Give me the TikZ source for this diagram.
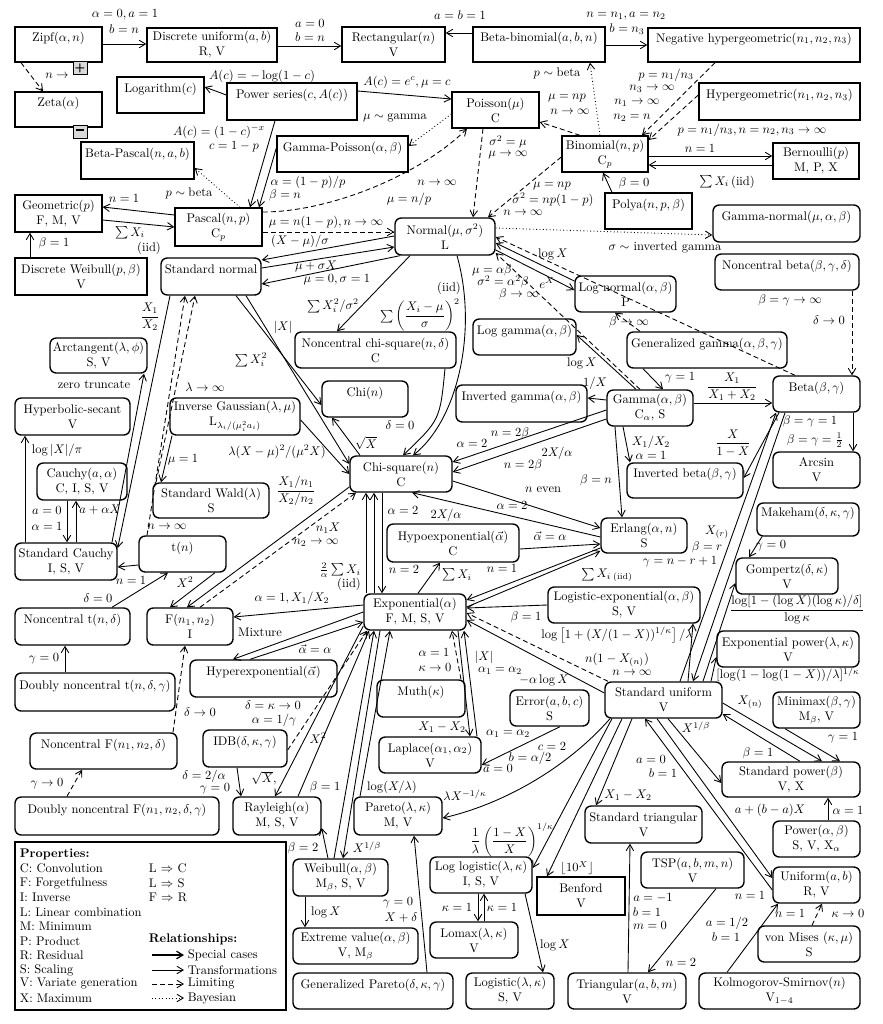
\documentclass[tikz,border=0pt]{standalone}
\usepackage{amsmath,amssymb}
\usetikzlibrary{arrows.meta}
\newcounter{lbc}
\newcommand\lbl[3]{\stepcounter{lbc}\node[lab] (lb\arabic{lbc}) at (#1,#2) {#3};}
\newcommand\lbw[3]{\stepcounter{lbc}\node[lab,anchor=west] (lb\arabic{lbc}) at (#1,#2) {#3};}
\newcommand\mkbox[7]{%
  \pgfmathsetmacro\bxcx{(#2+#4)/2}\pgfmathsetmacro\bxcy{(#3+#5)/2}%
  \pgfmathsetmacro\bxww{(#4-#2)*0.8}\pgfmathsetmacro\bxhh{(#5-#3)*0.8}%
  \node[#6,minimum width=\bxww pt,minimum height=\bxhh pt] (#1) at (\bxcx,\bxcy) {#7};}
\newcommand\dnode[6]{\mkbox{#1}{#2}{#3}{#4}{#5}{dbox}{#6}}
\newcommand\cnode[6]{\mkbox{#1}{#2}{#3}{#4}{#5}{cbox}{#6}}
\newcommand\nil{\phantom{V}}
\begin{document}
\begin{tikzpicture}[x=0.8pt,y=-0.8pt,
  dbox/.style={draw,line width=1.1pt,inner sep=0pt,align=center},
  cbox/.style={dbox,rounded corners=5pt},
  conn/.style={line width=0.7pt,-{Straight Barb[length=5pt,width=6pt]}},
  lim/.style={conn,dash pattern=on 4pt off 2.5pt},
  bay/.style={conn,dotted},
  lab/.style={inner sep=0.5pt},
  pmbox/.style={draw,line width=0.6pt,fill=gray!30,minimum size=11pt,inner sep=0pt,font=\sffamily\bfseries}]
\useasboundingbox (0,0) rectangle (883,1024);
% ---------- nodes ----------
\dnode{zipf}{15}{27}{102}{62}{Zipf$(\alpha,n)$\\\nil}
\dnode{zeta}{15}{92}{102}{127}{Zeta$(\alpha)$\\\nil}
\dnode{du}{147}{28}{277}{62}{Discrete uniform$(a,b)$\\R, V}
\dnode{rect}{342}{27}{445}{62}{Rectangular$(n)$\\V}
\dnode{bb}{473}{27}{605}{62}{Beta-binomial$(a,b,n)$\\\nil}
\dnode{nh}{648}{28}{860}{62}{Negative hypergeometric$(n_1,n_2,n_3)$\\\nil}
\dnode{log}{117}{77}{204}{113}{Logarithm$(c)$\\\nil}
\dnode{ps}{227}{83}{357}{120}{Power series$(c,A(c))$\\\nil}
\dnode{poisson}{452}{92}{539}{128}{Poisson$(\mu)$\\C}
\dnode{hg}{699}{83}{860}{120}{Hypergeometric$(n_1,n_2,n_3)$\\\nil}
\dnode{bp}{81}{142}{194}{179}{Beta-Pascal$(n,a,b)$\\\nil}
\dnode{gp}{277}{136}{408}{172}{Gamma-Poisson$(\alpha,\beta)$\\\nil}
\dnode{binom}{562}{136}{648}{172}{Binomial$(n,p)$\\C$_p$}
\dnode{bern}{773}{143}{859}{179}{Bernoulli$(p)$\\M, P, X}
\dnode{polya}{605}{193}{692}{229}{Polya$(n,p,\beta)$\\\nil}
\cnode{gn}{713}{205}{860}{242}{Gamma-normal$(\mu,\alpha,\beta)$\\\nil}
\dnode{geom}{15}{195}{102}{232}{Geometric$(p)$\\F, M, V}
\dnode{pascal}{175}{208}{262}{246}{Pascal$(n,p)$\\C$_p$}
\cnode{normal}{395}{218}{495}{255}{Normal$(\mu,\sigma^2)$\\L}
\dnode{dw}{15}{258}{147}{295}{Discrete Weibull$(p,\beta)$\\V}
\cnode{sn}{161}{258}{261}{295}{Standard normal\\\nil}
\cnode{nb}{715}{254}{859}{290}{Noncentral beta$(\beta,\gamma,\delta)$\\\nil}
\cnode{ln}{575}{276}{676}{312}{Log normal$(\alpha,\beta)$\\P}
\cnode{ncs}{295}{332}{456}{368}{Noncentral chi-square$(n,\delta)$\\C}
\cnode{lg}{473}{319}{576}{355}{Log gamma$(\alpha,\beta)$\\\nil}
\cnode{gg}{627}{332}{787}{368}{Generalized gamma$(\alpha,\beta,\gamma)$\\\nil}
\cnode{arct}{50}{338}{147}{373}{Arctangent$(\lambda,\phi)$\\S, V}
\cnode{chi}{322}{381}{408}{417}{Chi$(n)$\\\nil}
\cnode{invg}{456}{385}{587}{422}{Inverted gamma$(\alpha,\beta)$\\\nil}
\cnode{gamma}{607}{390}{693}{426}{Gamma$(\alpha,\beta)$\\C$_\alpha$, S}
\cnode{beta}{773}{376}{860}{412}{Beta$(\beta,\gamma)$\\\nil}
\cnode{hs}{15}{398}{130}{435}{Hyperbolic-secant\\V}
\cnode{ig}{170}{398}{300}{435}{Inverse Gaussian$(\lambda,\mu)$\\L$_{\lambda_i/(\mu_i^2a_i)}$}
\cnode{arcsin}{773}{452}{860}{488}{Arcsin\\V}
\cnode{cauchy}{37}{463}{127}{500}{Cauchy$(a,\alpha)$\\C, I, S, V}
\cnode{chisq}{350}{456}{452}{492}{Chi-square$(n)$\\C}
\cnode{sw}{153}{483}{269}{518}{Standard Wald$(\lambda)$\\S}
\cnode{ib}{627}{463}{743}{498}{Inverted beta$(\beta,\gamma)$\\\nil}
\cnode{makeham}{757}{503}{859}{536}{Makeham$(\delta,\kappa,\gamma)$\\\nil}
\cnode{erlang}{601}{518}{687}{553}{Erlang$(\alpha,n)$\\S}
\cnode{hypo}{387}{524}{519}{562}{Hypoexponential$(\vec\alpha)$\\C}
\cnode{t}{139}{536}{226}{572}{t$(n)$\\\nil}
\cnode{sc}{15}{543}{117}{580}{Standard Cauchy\\I, S, V}
\cnode{gomp}{736}{558}{838}{594}{Gompertz$(\delta,\kappa)$\\V}
\cnode{le}{548}{587}{700}{623}{Logistic-exponential$(\alpha,\beta)$\\S, V}
\cnode{expo}{364}{594}{466}{630}{Exponential$(\alpha)$\\F, M, S, V}
\cnode{nt}{15}{608}{130}{645}{Noncentral t$(n,\delta)$\\\nil}
\cnode{f}{147}{608}{233}{645}{F$(n_1,n_2)$\\I}
\cnode{ep}{717}{631}{859}{667}{Exponential power$(\lambda,\kappa)$\\V}
\cnode{hyper}{190}{660}{337}{697}{Hyperexponential$(\vec\alpha)$\\\nil}
\cnode{dnt}{15}{673}{175}{711}{Doubly noncentral t$(n,\delta,\gamma)$\\\nil}
\cnode{muth}{377}{680}{465}{717}{Muth$(\kappa)$\\\nil}
\cnode{su}{605}{682}{722}{718}{Standard uniform\\V}
\cnode{minimax}{773}{692}{860}{728}{Minimax$(\beta,\gamma)$\\M$_\beta$, V}
\cnode{error}{510}{690}{589}{726}{Error$(a,b,c)$\\S}
\cnode{nf}{30}{733}{177}{769}{Noncentral F$(n_1,n_2,\delta)$\\\nil}
\cnode{idb}{203}{730}{287}{767}{IDB$(\delta,\kappa,\gamma)$\\\nil}
\cnode{laplace}{379}{737}{481}{773}{Laplace$(\alpha_1,\alpha_2)$\\V}
\cnode{sp}{722}{762}{860}{797}{Standard power$(\beta)$\\V, X}
\cnode{dnf}{15}{797}{219}{835}{Doubly noncentral F$(n_1,n_2,\delta,\gamma)$\\\nil}
\cnode{ray}{233}{797}{321}{835}{Rayleigh$(\alpha)$\\M, S, V}
\cnode{pareto}{354}{797}{442}{835}{Pareto$(\lambda,\kappa)$\\M, V}
\cnode{st}{585}{806}{702}{843}{Standard triangular\\V}
\cnode{power}{773}{821}{860}{857}{Power$(\alpha,\beta)$\\S, V, X$_\alpha$}
\cnode{weib}{293}{859}{388}{896}{Weibull$(\alpha,\beta)$\\M$_\beta$, S, V}
\cnode{ll}{430}{857}{532}{893}{Log logistic$(\lambda,\kappa)$\\I, S, V}
\dnode{benford}{537}{877}{625}{915}{Benford\\V}
\cnode{tsp}{641}{852}{744}{888}{TSP$(a,b,m,n)$\\V}
\cnode{unif}{773}{867}{860}{903}{Uniform$(a,b)$\\R, V}
\cnode{ev}{293}{928}{418}{964}{Extreme value$(\alpha,\beta)$\\V, M$_\beta$}
\cnode{lomax}{430}{922}{518}{958}{Lomax$(\lambda,\kappa)$\\V}
\cnode{vm}{758}{926}{860}{962}{von Mises $(\kappa,\mu)$\\S}
\cnode{gpareto}{293}{973}{453}{1009}{Generalized Pareto$(\delta,\kappa,\gamma)$\\\nil}
\cnode{logistic}{466}{973}{554}{1009}{Logistic$(\lambda,\kappa)$\\S, V}
\cnode{tri}{568}{973}{686}{1009}{Triangular$(a,b,m)$\\V}
\cnode{ks}{699}{973}{860}{1009}{Kolmogorov-Smirnov$(n)$\\V$_{1-4}$}
% ---------- top ----------
\draw[conn] (zipf.east |- 0,44) -- (du.west |- 0,44);
\lbl{125}{15}{$\alpha=0, a=1$}
\lbl{124}{29}{$b=n$}
\draw[lim] (zipf.south -| 21,0) -- (zeta.north -| 43,0);
\lbl{57}{76}{$n\rightarrow$}
\node[pmbox] (plus) at (80,68) {+};
\node[pmbox] (minus) at (80,132) {\rule[2.5pt]{6pt}{1.6pt}};
\draw[conn] (du.east |- 0,46) -- (rect.west |- 0,46);
\lbl{310}{23}{$a=0$}
\lbl{310}{37}{$b=n$}
\draw[conn] (bb.west |- 0,33) -- (rect.east |- 0,33);
\lbl{460}{15}{$a=b=1$}
\draw[conn] (bb.east |- 0,45) -- (nh.west |- 0,45);
\lbl{626}{16}{$n=n_1, a=n_2$}
\lbl{627}{29}{$b=n_3$}
\draw[lim] (nh.south -| 715,0) -- (binom.north -| 642,0);
\lbl{666}{75}{$p=n_1/n_3$}
\lbl{652}{89}{$n_3\rightarrow\infty$}
\lbl{637}{103}{$n_1\rightarrow\infty$}
\lbl{632}{118}{$n_2=n$}
\draw[lim] (hg.west |- 0,95) -- (binom.east |- 0,140);
\lbl{752}{130}{$p=n_1/n_3, n=n_2, n_3\rightarrow\infty$}
\draw[bay] (binom.north -| 600,0) -- (bb.south -| 590,0);
\lbl{557}{73}{$p\sim\text{beta}$}
\draw[lim] (binom.north -| 580,0) -- (poisson.east |- 0,122);
\lbl{567}{98}{$\mu=np$}
\lbl{570}{112}{$n\rightarrow\infty$}
\draw[conn] (binom.east |- 0,156) -- (bern.west |- 0,156);
\lbl{700}{148}{$n=1$}
\draw[conn] (bern.west |- 0,165) -- (binom.east |- 0,165);
\lbl{727}{182}{$\sum X_i\,$(iid)}
\draw[conn] (polya.north -| 612,0) -- (binom.south -| 603,0);
\lbl{634}{183}{$\beta=0$}
\draw[conn] (ps.west |- 0,95) -- (log.east |- 0,87);
\lbl{262}{76}{$A(c)=-\log(1-c)$}
\draw[conn] (ps.east |- 0,91) -- (poisson.west |- 0,99);
\lbl{407}{82}{$A(c)=e^c, \mu=c$}
\draw[conn] (ps.south -| 275,0) -- (pascal.north -| 250,0);
\lbl{219}{132}{$A(c)=(1-c)^{-x}$}
\lbl{234}{147}{$c=1-p$}
\draw[conn] (gp.west |- 0,148) -- (pascal.north -| 259,0);
\lbl{308}{182}{$\alpha=(1-p)/p$}
\lbl{285}{195}{$\beta=n$}
\draw[bay] (poisson.west |- 0,114) -- (gp.east |- 0,146);
\lbl{395}{118}{$\mu\sim\text{gamma}$}
\draw[bay] (pascal.north -| 240,0) -- (bp.east |- 0,168);
\lbl{189}{193}{$p\sim\text{beta}$}
\draw[lim] (pascal.east |- 0,212) .. controls (330,212) and (420,175) .. (poisson.south -| 467,0);
\lbl{437}{183}{$n\rightarrow\infty$}
\lbl{409}{199}{$\mu=n/p$}
\draw[lim] (pascal.east |- 0,232) -- (normal.west |- 0,232);
\lbl{326}{222}{$\mu=n(1-p), n\rightarrow\infty$}
\draw[conn] (pascal.west |- 0,215) -- (geom.east |- 0,207);
\lbl{124}{198}{$n=1$}
\draw[conn] (geom.east |- 0,220) -- (pascal.west |- 0,227);
\lbl{130}{233}{$\sum X_i$}
\lbl{149}{248}{(iid)}
\draw[conn] (dw.north -| 30,0) -- (geom.south -| 30,0);
\lbl{54}{243}{$\beta=1$}
\draw[lim] (poisson.south -| 483,0) -- (normal.north -| 473,0);
\lbl{508}{142}{$\sigma^2=\mu$}
\lbl{508}{155}{$\mu\rightarrow\infty$}
\draw[lim] (binom.west |- 0,157) -- (normal.north -| 488,0);
\lbl{552}{186}{$\mu=np$}
\lbl{553}{200}{$\sigma^2=np(1-p)$}
\lbl{523}{213}{$n\rightarrow\infty$}
\draw[bay] (normal.east |- 0,228) -- (gn.west |- 0,235);
\lbl{665}{247}{$\sigma\sim$ inverted gamma}
\draw[lim] (beta.north -| 795,0) -- (normal.east |- 0,237);
\lbl{790}{300}{$\beta=\gamma\rightarrow\infty$}
\draw[lim] (nb.south -| 852,0) -- (beta.north -| 852,0);
\lbl{829}{320}{$\delta\rightarrow0$}
% ---------- normal area ----------
\draw[conn] (normal.west |- 0,236) -- (sn.east |- 0,260);
\draw[conn] (sn.east |- 0,268) -- (normal.west |- 0,247);
\draw[conn] (normal.south -| 400,0) -- (sn.east |- 0,284);
\lbl{300}{241}{$(X-\mu)/\sigma$}
\lbl{316}{266}{$\mu+\sigma X$}
\lbl{337}{280}{$\mu=0,\sigma=1$}
\draw[conn] (ln.west |- 0,281) -- (normal.east |- 0,243);
\lbl{553}{254}{$\log X$}
\draw[conn] (normal.east |- 0,250) -- (ln.west |- 0,290);
\lbl{547}{283}{$e^X$}
\draw[lim] (gamma.north -| 640,0) -- (normal.east |- 0,253);
\lbl{492}{270}{$\mu=\alpha\beta$}
\lbl{503}{282}{$\sigma^2=\alpha^2\beta$}
\lbl{519}{294}{$\beta\rightarrow\infty$}
\draw[lim] (gg.north -| 640,0) -- (ln.south -| 615,0);
\lbl{629}{322}{$\beta\rightarrow\infty$}
\draw[conn] (normal.south -| 410,0) -- (ncs.north -| 337,0);
\lbl{333}{306}{$\sum X_i^2/\sigma^2$}
\draw[conn] (normal.south -| 457,0) .. controls (478,330) and (458,420) .. (chisq.north -| 413,0);
\lbl{449}{288}{(iid)}
\lbl{420}{315}{$\sum\left(\dfrac{X_i-\mu}{\sigma}\right)^{2}$}
\draw[conn] (ncs.south -| 445,0) .. controls (440,420) .. (chisq.north -| 403,0);
\lbl{400}{425}{$\delta=0$}
\draw[conn] (chisq.north -| 360,0) -- (chi.south -| 332,0);
\lbl{366}{443}{$\sqrt{X}$}
\draw[conn] (sn.south -| 236,0) -- (chi.west |- 0,405);
\lbl{283}{327}{$|X|$}
\draw[conn] (sn.south -| 246,0) -- (chisq.west |- 0,464);
\lbl{251}{360}{$\sum X_i^2$}
\draw[conn] (ig.east |- 0,420) -- (chisq.west |- 0,474);
\lbl{277}{452}{$\lambda(X-\mu)^2/(\mu^2X)$}
\draw[conn] (ig.south -| 172,0) -- (sw.north -| 161,0);
\lbl{183}{460}{$\mu=1$}
\draw[lim] (sw.north -| 156,0) -- (sn.south -| 195,0);
\lbl{205}{387}{$\lambda\rightarrow\infty$}
\draw[lim] (t.north -| 147,0) -- (sn.south -| 185,0);
\lbl{167}{527}{$n\rightarrow\infty$}
\draw[conn] (sn.south -| 170,0) -- (sc.east |- 0,548);
\lbl{150}{317}{$\dfrac{X_1}{X_2}$}
\draw[conn] (sc.north -| 112,0) -- (arct.south -| 144,0);
\lbl{94}{385}{zero truncate}
\draw[conn] (sc.north -| 25,0) -- (hs.south -| 25,0);
\lbl{57}{450}{$\log|X|/\pi$}
\draw[conn] (cauchy.south -| 67,0) -- (sc.north -| 67,0);
\lbl{47}{510}{$a=0$}
\lbl{47}{526}{$\alpha=1$}
\draw[conn] (sc.north -| 76,0) -- (cauchy.south -| 76,0);
\lbl{100}{510}{$a+\alpha X$}
\draw[conn] (t.west |- 0,565) -- (sc.east |- 0,567);
\lbl{131}{580}{$n=1$}
\draw[conn] (nt.north -| 112,0) -- (t.south -| 168,0);
\lbl{98}{598}{$\delta=0$}
\draw[conn] (dnt.north -| 65,0) -- (nt.south -| 65,0);
\lbl{44}{659}{$\gamma=0$}
\draw[conn] (t.south -| 215,0) -- (f.north -| 170,0);
\lbl{185}{582}{$X^2$}
\draw[conn] (chisq.west |- 0,487) -- (f.north -| 187,0);
\lbl{296}{491}{$\dfrac{X_1/n_1}{X_2/n_2}$}
\draw[lim] (f.north -| 200,0) -- (chisq.south -| 356,0);
\lbl{328}{528}{$n_1X$}
\lbl{316}{543}{$n_2\rightarrow\infty$}
\draw[conn] (expo.west |- 0,605) -- (f.east |- 0,617);
\lbl{292}{598}{$\alpha=1, X_1/X_2$}
\draw[conn] (expo.west |- 0,612) -- (hyper.north -| 233,0);
\lbl{260}{632}{Mixture}
\draw[conn] (hyper.north -| 250,0) -- (expo.west |- 0,622);
\lbl{315}{649}{$\vec\alpha=\alpha$}
\draw[lim] (idb.east |- 0,750) -- (expo.south -| 367,0);
\lbl{273}{705}{$\delta=\kappa\rightarrow0$}
\lbl{274}{720}{$\alpha=1/\gamma$}
\draw[conn] (idb.south -| 237,0) -- (ray.north -| 241,0);
\lbl{204}{776}{$\delta=2/\alpha$}
\lbl{215}{789}{$\gamma=0$}
\draw[conn] (expo.west |- 0,626) -- (ray.north -| 275,0);
\lbl{264}{778}{$\sqrt{X}$,}
\draw[conn] (ray.north -| 298,0) -- (expo.south -| 369,0);
\lbl{318}{738}{$X^2$}
\draw[conn] (expo.south -| 380,0) -- (weib.north -| 343,0);
\lbl{367}{847}{$X^{1/\beta}$}
\draw[conn] (weib.north -| 334,0) -- (expo.south -| 374,0);
\lbl{325}{787}{$\beta=1$}
\draw[conn] (pareto.north -| 360,0) -- (expo.south -| 390,0);
\lbl{392}{787}{$\log(X/\lambda)$}
\draw[conn] (weib.north -| 328,0) -- (ray.east |- 0,828);
\lbl{303}{848}{$\beta=2$}
\draw[conn] (weib.south -| 305,0) -- (ev.north -| 305,0);
\lbl{326}{912}{$\log X$}
\draw[conn] (gpareto.north -| 427,0) -- (pareto.south -| 414,0);
\lbl{398}{903}{$\gamma=0$}
\lbl{401}{918}{$X+\delta$}
\draw[conn] (ll.south -| 478,0) -- (lomax.north -| 478,0);
\draw[conn] (lomax.north -| 484,0) -- (ll.south -| 484,0);
\lbl{457}{907}{$\kappa=1$}
\lbl{502}{907}{$\kappa=1$}
\draw[conn] (ll.south -| 525,0) -- (logistic.north -| 543,0);
\lbl{555}{945}{$\log X$}
\draw[lim] (nf.north -| 173,0) -- (f.south -| 185,0);
\lbl{200}{712}{$\delta\rightarrow0$}
\draw[lim] (dnf.north -| 67,0) -- (nf.south -| 82,0);
\lbl{47}{784}{$\gamma\rightarrow0$}
% ---------- standard uniform area ----------
\draw[conn] (su.south -| 612,0) -- (ll.east |- 0,868);
\lbl{512}{840}{$\dfrac{1}{\lambda}\left(\dfrac{1-X}{X}\right)^{1/\kappa}$}
\draw[conn] (su.south -| 622,0) -- (benford.north -| 547,0);
\lbl{577}{868}{$\lfloor 10^X\rfloor$}
\draw[conn] (su.south -| 632,0) -- (st.north -| 596,0);
\lbl{628}{795}{$X_1-X_2$}
\draw[conn] (tri.north -| 628,0) -- (st.south -| 630,0);
\lbl{653}{898}{$a=-1$}
\lbl{647}{912}{$b=1$}
\lbl{650}{925}{$m=0$}
\draw[conn] (tsp.south -| 716,0) -- (tri.north -| 648,0);
\lbl{681}{962}{$n=2$}
\draw[conn] (unif.west |- 0,890) -- (su.south -| 645,0);
\lbl{651}{759}{$a=0$}
\lbl{663}{773}{$b=1$}
\draw[conn] (su.south -| 657,0) -- (unif.west |- 0,878);
\lbl{770}{810}{$a+(b-a)X$}
\draw[conn] (su.south -| 668,0) -- (sp.west |- 0,783);
\lbl{696}{727}{$X^{1/\beta}$}
\draw[conn] (su.east |- 0,703) -- (sp.north -| 822,0);
\lbl{750}{702}{$X_{(n)}$}
\draw[conn] (sp.north -| 800,0) -- (su.east |- 0,714);
\lbl{758}{753}{$\beta=1$}
\draw[conn] (minimax.south -| 785,0) -- (sp.north -| 840,0);
\lbl{843}{738}{$\gamma=1$}
\draw[conn] (power.north -| 828,0) -- (sp.south -| 828,0);
\lbl{848}{810}{$\alpha=1$}
\draw[conn] (ks.north -| 727,0) -- (unif.south -| 778,0);
\lbl{727}{923}{$a=1/2$}
\lbl{726}{937}{$b=1$}
\lbl{750}{895}{$n=1$}
\lbl{790}{913}{$n=1$}
\draw[lim] (vm.north -| 812,0) -- (unif.south -| 822,0);
\lbl{848}{913}{$\kappa\rightarrow0$}
\draw[conn] (beta.south -| 785,0) -- (su.north -| 693,0);
\lbl{810}{421}{$\beta=\gamma=1$}
\draw[conn] (su.north -| 680,0) -- (beta.south -| 776,0);
\lbl{717}{532}{$X_{(r)}$}
\lbl{707}{547}{$\beta=r$}
\lbl{680}{562}{$\gamma=n-r+1$}
\draw[conn] (su.north -| 703,0) -- (gomp.west |- 0,583);
\lbl{797}{610}{$\dfrac{\log[1-(\log X)(\log\kappa)/\delta]}{\log\kappa}$}
\draw[conn] (su.north -| 688,0) -- (le.south -| 693,0);
\lbl{617}{635}{$\log\left[1+(X/(1-X))^{1/\kappa}\right]/\lambda$}
\draw[conn] (su.north -| 711,0) -- (ep.west |- 0,657);
\lbl{788}{675}{$[\log(1-\log(1-X))/\lambda]^{1/\kappa}$}
\draw[conn] (makeham.south -| 762,0) -- (gomp.north -| 749,0);
\lbl{771}{546}{$\gamma=0$}
% ---------- gamma area ----------
\draw[conn] (gamma.east |- 0,403) -- (beta.west |- 0,403);
\lbl{732}{387}{$\dfrac{X_1}{X_1+X_2}$}
\draw[conn] (beta.south -| 779,0) -- (ib.east |- 0,478);
\lbl{733}{443}{$\dfrac{X}{1-X}$}
\draw[conn] (beta.south -| 853,0) -- (arcsin.north -| 853,0);
\lbl{815}{440}{$\beta=\gamma=\frac12$}
\draw[conn] (gg.south -| 643,0) -- (gamma.north -| 663,0);
\lbl{680}{378}{$\gamma=1$}
\draw[conn] (gamma.north -| 636,0) -- (lg.east |- 0,335);
\lbl{582}{363}{$\log X$}
\draw[conn] (gamma.west |- 0,400) -- (invg.east |- 0,398);
\lbl{595}{383}{$1/X$}
\draw[conn] (gamma.west |- 0,410) -- (chisq.east |- 0,462);
\draw[conn] (gamma.west |- 0,419) -- (chisq.east |- 0,472);
\lbl{472}{443}{$\alpha=2$}
\lbl{510}{433}{$n=2\beta$}
\lbl{557}{453}{$2X/\alpha$}
\lbl{523}{465}{$n=2\beta$}
\draw[conn] (gamma.south -| 615,0) -- (erlang.north -| 622,0);
\lbl{596}{480}{$\beta=n$}
\draw[conn] (gamma.south -| 623,0) -- (ib.north -| 630,0);
\lbl{651}{442}{$X_1/X_2$}
\lbl{651}{455}{$\alpha=1$}
% ---------- erlang / exponential ----------
\draw[conn] (chisq.east |- 0,481) -- (erlang.west |- 0,528);
\lbl{543}{490}{$n$ even}
\draw[conn] (erlang.west |- 0,537) -- (chisq.south -| 412,0);
\lbl{512}{505}{$\alpha=2$}
\draw[conn] (hypo.east |- 0,549) -- (erlang.west |- 0,544);
\lbl{550}{536}{$\vec\alpha=\alpha$}
\draw[conn] (erlang.west |- 0,548) -- (expo.east |- 0,600);
\lbl{502}{568}{$n=1$}
\draw[conn] (expo.east |- 0,607) -- (erlang.west |- 0,551);
\lbl{607}{575}{$\sum X_i\,{}_{\text{(iid)}}$}
\draw[conn] (expo.north -| 366,0) -- (chisq.south -| 366,0);
\draw[conn] (expo.north -| 374,0) -- (chisq.south -| 374,0);
\draw[conn] (chisq.south -| 382,0) -- (expo.north -| 382,0);
\lbl{403}{510}{$\alpha=2$}
\lbl{446}{515}{$2X/\alpha$}
\lbl{404}{569}{$n=2$}
\lbl{340}{570}{$\frac{2}{\alpha}\sum X_i$}
\lbl{349}{584}{(iid)}
\draw[conn] (expo.north -| 418,0) -- (hypo.south -| 440,0);
\lbl{457}{575}{$\sum X_i$}
\draw[conn] (le.west |- 0,605) -- (expo.east |- 0,608);
\lbl{526}{617}{$\beta=1$}
\draw[conn] (su.west |- 0,693) -- (expo.east |- 0,620);
\lbl{544}{680}{$-\alpha\log X$}
\draw[lim] (su.north -| 608,0) -- (expo.east |- 0,613);
\lbl{617}{660}{$n(1-X_{(n)})$}
\lbl{632}{673}{$n\rightarrow\infty$}
\draw[lim] (muth.north -| 461,0) -- (expo.south -| 452,0);
\lbl{434}{652}{$\alpha=1$}
\lbl{435}{667}{$\kappa\rightarrow0$}
\draw[conn] (expo.south -| 458,0) -- (laplace.north -| 470,0);
\lbl{442}{727}{$X_1-X_2$}
\draw[conn] (laplace.north -| 477,0) -- (expo.south -| 464,0);
\lbl{484}{657}{$|X|$}
\lbl{500}{671}{$\alpha_1=\alpha_2$}
\draw[conn] (error.south -| 560,0) -- (laplace.east |- 0,765);
\lbl{508}{734}{$\alpha_1=\alpha_2$}
\lbl{552}{746}{$c=2$}
\lbl{530}{758}{$b=\alpha/2$}
\lbl{498}{768}{$a=0$}
\draw[conn] (su.south -| 610,0) .. controls (565,770) and (500,805) .. (pareto.east |- 0,818);
\lbl{465}{795}{$\lambda X^{-1/\kappa}$}
% ---------- legend ----------
\mkbox{legend}{15}{842}{286}{1010}{dbox,line width=1.3pt}{}
\lbw{19}{854}{\textbf{Properties:}}
\lbw{19}{868}{C: Convolution}
\lbw{19}{883}{F: Forgetfulness}
\lbw{19}{897}{I: Inverse}
\lbw{19}{912}{L: Linear combination}
\lbw{19}{926}{M: Minimum}
\lbw{19}{941}{P: Product}
\lbw{19}{955}{R: Residual}
\lbw{19}{970}{S: Scaling}
\lbw{19}{984}{V: Variate generation}
\lbw{19}{998}{X: Maximum}
\lbw{148}{868}{L $\Rightarrow$ C}
\lbw{148}{883}{L $\Rightarrow$ S}
\lbw{148}{897}{F $\Rightarrow$ R}
\lbw{148}{939}{\textbf{Relationships:}}
\coordinate (la1) at (152,955); \coordinate (lb1) at (184,955);
\coordinate (la2) at (152,970); \coordinate (lb2) at (184,970);
\coordinate (la3) at (152,984); \coordinate (lb3) at (184,984);
\coordinate (la4) at (152,998); \coordinate (lb4) at (184,998);
\draw[conn,line width=1pt] (la1) -- (lb1);
\draw[conn] (la2) -- (lb2);
\draw[lim] (la3) -- (lb3);
\draw[bay] (la4) -- (lb4);
\lbw{187}{955}{Special cases}
\lbw{187}{970}{Transformations}
\lbw{187}{984}{Limiting}
\lbw{187}{998}{Bayesian}
\end{tikzpicture}
\end{document}
